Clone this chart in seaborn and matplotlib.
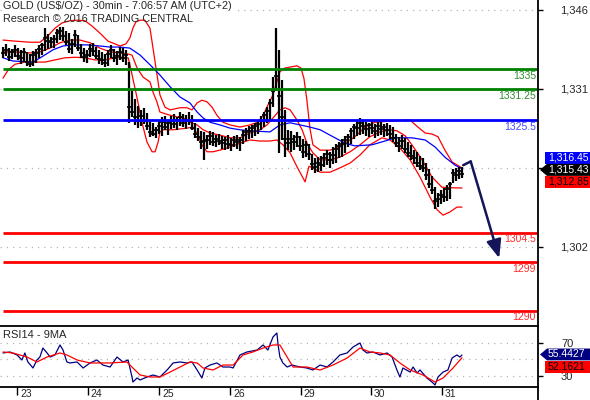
import numpy as np
import matplotlib
matplotlib.use('Agg')
import matplotlib.pyplot as plt
import seaborn as sns
from matplotlib.transforms import blended_transform_factory
from matplotlib.patches import Polygon
from matplotlib.lines import Line2D

# ---- price bars (30 min, one entry per bar) ----
bar_high = [1339.2, 1339.6, 1339.0, 1338.8, 1339.4, 1339.0, 1338.6, 1338.9, 1338.2, 1337.8,
            1338.4, 1338.8, 1339.4, 1339.8, 1342.6, 1341.6, 1341.0, 1341.4, 1342.4, 1342.8,
            1342.9, 1342.0, 1341.8, 1340.6, 1342.2, 1341.4, 1339.6, 1339.0, 1338.6, 1339.6,
            1339.8, 1339.2, 1338.6, 1338.2, 1337.8, 1338.6, 1339.4, 1338.8, 1338.4, 1339.2,
            1339.0, 1338.6, 1336.4, 1331.0, 1329.5, 1328.2, 1327.4, 1327.8, 1326.8, 1325.6,
            1325.0, 1324.2, 1325.4, 1326.0, 1326.2, 1325.6, 1326.2, 1326.6, 1326.0, 1327.0,
            1326.6, 1326.4, 1327.0, 1326.4, 1325.0, 1324.0, 1323.4, 1323.2, 1322.8, 1323.4,
            1323.2, 1322.8, 1323.0, 1322.6, 1322.4, 1322.8, 1322.2, 1322.6, 1322.8, 1322.4,
            1323.6, 1324.0, 1324.4, 1324.6, 1325.0, 1325.6, 1326.2, 1327.0, 1328.0, 1329.4,
            1333.5, 1342.6, 1338.6, 1333.0, 1327.4, 1323.7, 1323.4, 1322.8, 1323.2, 1322.6,
            1322.0, 1321.6, 1321.0, 1319.2, 1318.4, 1318.6, 1318.8, 1319.4, 1320.0, 1319.6,
            1320.4, 1321.0, 1321.4, 1322.0, 1322.6, 1323.0, 1324.0, 1324.8, 1325.4, 1325.8,
            1325.6, 1325.2, 1325.0, 1325.6, 1324.8, 1325.2, 1325.4, 1324.8, 1325.0, 1324.6,
            1324.2, 1323.0, 1322.4, 1322.8, 1322.2, 1321.4, 1320.8, 1320.0, 1319.6, 1318.8,
            1318.4, 1317.6, 1316.4, 1315.0, 1313.0, 1312.0, 1312.4, 1312.8, 1313.4, 1314.0,
            1316.4, 1316.6, 1316.8, 1316.8]
bar_low = [1337.0, 1337.4, 1336.5, 1336.9, 1337.2, 1336.6, 1336.0, 1336.4, 1335.5, 1335.4,
           1335.6, 1336.2, 1337.0, 1337.6, 1338.4, 1338.8, 1339.0, 1339.0, 1339.8, 1340.4,
           1340.2, 1339.4, 1338.0, 1337.8, 1339.2, 1338.4, 1337.0, 1336.4, 1336.2, 1337.2,
           1337.4, 1336.8, 1336.0, 1335.8, 1335.4, 1335.6, 1337.0, 1336.4, 1335.8, 1336.6,
           1336.4, 1335.8, 1325.0, 1326.0, 1324.5, 1324.0, 1324.4, 1324.8, 1323.6, 1322.4,
           1322.6, 1322.2, 1323.0, 1322.6, 1323.6, 1322.8, 1323.8, 1324.0, 1323.6, 1324.4,
           1324.2, 1323.8, 1324.6, 1323.6, 1322.2, 1321.6, 1320.2, 1318.0, 1320.2, 1320.8,
           1320.6, 1320.4, 1320.8, 1320.2, 1320.0, 1320.2, 1319.8, 1320.4, 1320.2, 1319.8,
           1321.0, 1321.6, 1322.0, 1322.2, 1322.6, 1323.0, 1323.6, 1324.2, 1325.0, 1325.6,
           1328.0, 1331.0, 1319.4, 1321.8, 1318.6, 1319.9, 1319.6, 1320.0, 1320.4, 1319.8,
           1318.4, 1318.6, 1318.0, 1316.2, 1315.6, 1315.8, 1316.0, 1316.8, 1317.2, 1316.6,
           1317.4, 1317.6, 1318.4, 1318.6, 1319.4, 1320.4, 1321.0, 1322.0, 1322.6, 1322.8,
           1323.0, 1322.6, 1322.4, 1323.0, 1322.2, 1322.6, 1322.8, 1322.4, 1322.6, 1322.0,
           1321.4, 1320.4, 1319.6, 1320.2, 1319.4, 1318.6, 1318.0, 1317.4, 1316.8, 1316.2,
           1315.8, 1314.4, 1312.8, 1311.8, 1309.0, 1309.4, 1309.8, 1310.2, 1310.4, 1310.8,
           1313.8, 1314.2, 1314.6, 1314.8]
bar_close = [1338.0, 1338.6, 1337.2, 1338.2, 1338.5, 1337.4, 1337.0, 1338.2, 1336.4, 1336.0,
             1337.6, 1338.0, 1338.8, 1339.4, 1340.8, 1340.2, 1340.0, 1340.6, 1341.8, 1342.0,
             1341.2, 1340.0, 1338.8, 1339.6, 1341.4, 1339.0, 1338.0, 1337.2, 1337.6, 1338.8,
             1338.4, 1337.4, 1336.8, 1336.6, 1336.2, 1337.8, 1338.6, 1337.0, 1337.4, 1338.2,
             1337.0, 1337.6, 1328.0, 1327.0, 1326.0, 1325.4, 1326.2, 1325.4, 1324.4, 1323.2,
             1323.0, 1323.6, 1324.4, 1325.2, 1324.2, 1325.0, 1325.4, 1324.8, 1325.6, 1326.0,
             1325.0, 1325.6, 1325.4, 1324.0, 1323.0, 1322.4, 1321.4, 1321.6, 1321.8, 1322.6,
             1321.4, 1322.0, 1321.6, 1321.2, 1321.8, 1321.0, 1320.8, 1321.8, 1321.4, 1321.8,
             1322.8, 1323.2, 1323.4, 1324.0, 1324.4, 1324.8, 1325.4, 1326.4, 1327.2, 1328.6,
             1331.0, 1333.8, 1330.0, 1326.0, 1322.0, 1321.2, 1322.0, 1321.4, 1322.4, 1320.6,
             1319.6, 1320.8, 1319.2, 1317.4, 1316.8, 1317.6, 1317.2, 1318.4, 1319.2, 1318.0,
             1319.0, 1320.2, 1320.6, 1321.0, 1321.8, 1322.4, 1323.4, 1324.2, 1324.0, 1325.0,
             1324.4, 1323.8, 1324.6, 1324.0, 1323.4, 1324.4, 1323.8, 1324.2, 1323.6, 1323.0,
             1322.2, 1321.2, 1320.6, 1321.6, 1320.2, 1319.4, 1318.8, 1318.4, 1317.6, 1317.0,
             1316.6, 1315.2, 1313.6, 1312.4, 1310.4, 1310.8, 1311.6, 1311.2, 1312.6, 1313.6,
             1315.6, 1315.2, 1316.0, 1315.43]

# ---- bollinger bands + moving average (bar index, price) ----
up_x = [0, 4, 9, 12.3, 15, 17.3, 19.7, 22.3, 25, 27.3, 29.7, 32.3, 35, 37.3, 39, 41, 42.3, 43.3,
        44.3, 45.7, 47.3, 49, 50, 50.7, 51.7, 52.3, 54, 55.7, 59, 61.3, 63, 64.7, 66.3, 68, 69.7,
        71.3, 73.3, 75.7, 79, 82.3, 85, 86.7, 88.3, 90, 91.3, 92.3, 94, 98, 99.3, 100.3, 101.3,
        102.3, 103.3, 105.7, 109, 112.3, 114, 117.3, 120.7, 124, 129, 132.3, 135.7, 138.3, 140.7,
        143, 145, 147.3, 149.7, 153]
up_y = [1340.4, 1340.2, 1340.0, 1340.0, 1341.2, 1342.6, 1343.6, 1344.0, 1344.1, 1344.0, 1343.0,
        1341.7, 1340.2, 1339.7, 1339.3, 1339.7, 1340.8, 1342.6, 1343.8, 1344.1, 1344.1, 1342.6,
        1338.9, 1336.3, 1332.6, 1330.2, 1327.9, 1327.4, 1327.8, 1327.8, 1327.4, 1328.7, 1329.2,
        1328.9, 1327.9, 1326.4, 1325.1, 1324.6, 1324.2, 1324.6, 1325.1, 1326.4, 1328.3, 1330.2,
        1332.6, 1334.5, 1335.2, 1335.6, 1335.2, 1333.3, 1329.2, 1324.0, 1320.9, 1319.9, 1319.9,
        1320.5, 1321.2, 1322.4, 1324.2, 1325.1, 1325.3, 1325.4, 1325.5, 1324.2, 1323.1, 1322.9,
        1322.4, 1319.9, 1317.7, 1316.6]
mid_x = [0, 4, 9, 12.3, 15.7, 19, 22.3, 25.7, 29, 32.3, 35.7, 39, 41.7, 43, 44.7, 46.7, 49, 50,
         51.3, 52.3, 55.7, 58, 60, 62.3, 64.7, 66.7, 69, 72.3, 75.7, 79, 82.3, 85.7, 88, 90, 92.3,
         94, 95.7, 98, 99.7, 101.3, 103.3, 105.7, 109, 112.3, 115.7, 119, 122.3, 125.7, 129, 131.3,
         134, 136.3, 139.7, 143, 146.3, 149.7, 153]
mid_y = [1338.2, 1338.2, 1338.0, 1338.2, 1338.9, 1339.9, 1340.4, 1340.4, 1339.9, 1338.9, 1338.2,
         1338.0, 1337.8, 1337.6, 1335.2, 1333.5, 1332.6, 1330.7, 1328.9, 1327.0, 1326.4, 1326.1,
         1325.9, 1325.1, 1324.6, 1323.7, 1323.1, 1322.7, 1322.2, 1322.2, 1323.1, 1323.7, 1324.6,
         1325.9, 1327.4, 1327.8, 1327.4, 1325.5, 1323.7, 1321.2, 1319.4, 1318.1, 1318.1, 1318.6,
         1319.6, 1320.9, 1322.4, 1323.3, 1323.7, 1323.5, 1322.6, 1320.9, 1318.1, 1314.9, 1313.0,
         1312.9, 1312.85]
lo_x = [0, 1.7, 4, 7.3, 10.7, 14, 17.3, 20.7, 24, 27.3, 30.7, 34, 37.3, 39.7, 41.7, 42.3, 44.7,
        46.3, 48, 49.7, 50.7, 51.7, 52.3, 53.3, 56.7, 61.3, 63.3, 65, 66.3, 68, 70, 72.3, 75.7, 79,
        82.3, 85.7, 89, 91.3, 93.3, 95.7, 98, 100.7, 102, 103.3, 105.7, 109, 112.3, 115.7, 119,
        122.3, 126.3, 129, 132.3, 135.7, 139, 142.3, 144.7, 146.7, 149, 151.3, 153]
lo_y = [1333.3, 1334.8, 1335.9, 1336.3, 1336.3, 1336.3, 1336.7, 1337.1, 1337.2, 1337.1, 1336.7,
        1336.7, 1337.1, 1337.2, 1337.1, 1335.8, 1329.6, 1325.1, 1321.4, 1319.6, 1319.6, 1321.4,
        1323.3, 1323.7, 1323.7, 1324.0, 1324.2, 1322.7, 1320.9, 1319.6, 1319.6, 1319.9, 1320.5,
        1321.2, 1321.8, 1321.6, 1321.6, 1321.8, 1320.9, 1319.4, 1316.8, 1314.0, 1316.9, 1316.6,
        1315.8, 1315.8, 1316.6, 1317.5, 1319.0, 1320.9, 1322.2, 1321.8, 1320.3, 1318.1, 1314.9,
        1311.2, 1308.8, 1307.8, 1308.4, 1309.3, 1309.3]
ma_x = [0, 3.3, 10, 13.3, 16.7, 20, 23.3, 28, 32.3, 35.7, 39, 42.3, 45.7, 49, 52.3, 55.7, 59,
        62.3, 64.7, 66.7, 69, 72.3, 75.7, 79, 82.3, 89, 92.3, 95.7, 99, 102.3, 105.7, 109, 114,
        117.3, 123, 127.3, 130.7, 136.3, 140.7, 144, 147.3, 150.7, 153]
ma_y = [1337.1, 1336.5, 1336.3, 1337.4, 1338.6, 1339.3, 1339.5, 1339.5, 1339.3, 1339.1, 1339.1,
        1338.9, 1337.6, 1335.8, 1333.9, 1331.7, 1329.8, 1328.7, 1327.0, 1325.9, 1325.1, 1324.6,
        1324.0, 1323.7, 1323.5, 1323.3, 1324.6, 1325.0, 1324.6, 1324.2, 1323.7, 1322.7, 1321.2,
        1320.7, 1320.9, 1321.6, 1322.2, 1322.2, 1321.8, 1320.5, 1318.6, 1317.1, 1316.45]

# ---- RSI(14) and its 9 period average ----
rsi_x = [0, 2.3, 4.7, 6.3, 7.3, 8.3, 10, 11.3, 12.3, 13.3, 14.7, 15.7, 17.3, 19, 20, 21.3, 22.3,
         24.7, 26.7, 29, 31.3, 33.3, 35.7, 38, 40, 41.7, 43, 43.3, 44.7, 45.7, 48, 50, 52.3, 54.7,
         56.7, 59, 61.3, 63, 64.7, 66.3, 67.3, 69, 71.3, 73.3, 75.7, 76.7, 79, 81.3, 84.7, 86.7,
         88.3, 90, 91.3, 91.7, 92.3, 93.3, 94.7, 96.3, 99, 101.3, 103.3, 105.7, 108, 110, 112.3,
         114.7, 116.7, 119, 120, 121.3, 123.3, 125.7, 128, 129.7, 131.3, 132.3, 133.3, 135.7,
         136.7, 138, 139, 141.3, 143, 144, 145, 146.7, 148.3, 149.7, 151.3, 152.3, 153]
rsi_y = [57.9, 59.1, 55.5, 49.4, 57.9, 47.0, 39.7, 49.4, 53.0, 63.9, 57.9, 53.0, 55.5, 67.6, 61.5,
         47.0, 45.8, 47.0, 39.7, 45.8, 49.4, 43.3, 40.9, 53.0, 47.0, 49.4, 28.8, 22.7, 27.6, 25.2,
         28.8, 31.2, 28.8, 37.3, 45.8, 47.0, 45.8, 47.0, 37.3, 27.6, 39.7, 43.3, 45.8, 40.9, 40.9,
         39.7, 55.5, 59.1, 61.5, 67.6, 61.5, 77.3, 82.1, 67.6, 53.0, 45.8, 40.9, 43.3, 40.9, 39.7,
         37.3, 43.3, 40.9, 47.0, 55.5, 57.9, 65.2, 70.0, 61.5, 57.9, 59.1, 55.5, 57.9, 53.0, 37.3,
         28.8, 39.7, 34.8, 40.9, 33.6, 37.3, 27.6, 22.7, 19.1, 28.8, 34.8, 37.3, 51.8, 55.5, 53.0,
         55.44]
rsima_x = [0, 3.3, 8, 11.3, 14.7, 19, 21.3, 24.7, 29, 35.7, 41.3, 43.3, 45.7, 49, 52.3, 55.7, 59,
           62.3, 64.7, 66.7, 70, 73.3, 76.7, 80, 83.3, 86.7, 90, 92.3, 94.7, 96.7, 101.3, 105.7,
           110, 114.7, 119, 122.3, 125.7, 129, 132.3, 135.7, 140, 144, 146.7, 150, 153]
rsima_y = [59.1, 57.9, 53.0, 47.0, 53.0, 57.9, 55.5, 49.4, 45.8, 45.8, 47.0, 39.7, 31.2, 28.8,
           28.8, 34.8, 40.9, 47.0, 45.8, 39.7, 37.3, 43.3, 43.3, 55.5, 59.1, 63.9, 67.6, 67.6,
           53.0, 40.9, 40.9, 37.3, 43.3, 51.8, 63.9, 59.1, 57.9, 55.5, 45.8, 37.3, 31.2, 22.7,
           27.6, 39.7, 52.16]

# ---- levels, ticks, labels ----
levels = [1335, 1331.25, 1325.5, 1304.5, 1299, 1290]
level_labels = ['1335', '1331.25', '1325.5', '1304.5', '1299', '1290']
level_colors = ['#008000', '#008000', '#0000ff', '#ff0000', '#ff0000', '#ff0000']
label_colors = ['#2e8b2e', '#2e8b2e', '#4646ff', '#ff2a2a', '#ff2a2a', '#ff2a2a']
price_grid = [1346, 1331.3, 1316.6, 1301.9]
price_ticklabels = ['1,346', '1,331', '', '1,302']
rsi_grid = [70, 50, 30]
days = ['23', '24', '25', '26', '29', '30', '31']
day_pos = [4.7, 28.3, 52, 75.7, 99.3, 122.7, 146.3]
# scenario arrow: last bar -> small bounce -> down to 1299
arrow_x = [153.4, 155.9, 165.4]
arrow_y = [1317.1, 1317.8, 1299.8]

navy = '#000080'

sns.set_style('white')
plt.rcParams['font.family'] = ['Liberation Sans', 'DejaVu Sans']

W, H = 590, 400
fig = plt.figure(figsize=(W / 100, H / 100), dpi=100)
ax = fig.add_axes([0, 1 - 326 / H, 538 / W, 326 / H])
rx = fig.add_axes([0, 1 - 387 / H, 538 / W, 61 / H])
xmax = 178.33

for a in (ax, rx):
    a.set_xlim(-1, xmax)
    for s in ['left', 'top', 'right', 'bottom']:
        a.spines[s].set_visible(False)
    a.set_facecolor('none')
ax.set_ylim(1287.16, 1347.86)
rx.set_ylim(16.67, 90.6)
ax.spines['bottom'].set_visible(True)
rx.spines['bottom'].set_visible(True)
for a in (ax, rx):
    a.spines['bottom'].set_color('black')
    a.spines['bottom'].set_linewidth(1.3)
fig.add_artist(Line2D([538 / W, 538 / W], [0, 1], transform=fig.transFigure,
                      color='black', lw=1.3))

# dotted grid
for g in price_grid:
    ax.axhline(g, color='#b4b4b4', lw=0.9, ls=(0, (1, 4)), zorder=0.5)
for g in rsi_grid:
    rx.axhline(g, color='#b4b4b4', lw=0.9, ls=(0, (1, 4)), zorder=0.5)

# bands and average
sns.lineplot(x=up_x, y=up_y, ax=ax, color='#ff0000', lw=0.9, estimator=None, sort=False, zorder=2)
sns.lineplot(x=mid_x, y=mid_y, ax=ax, color='#ff0000', lw=0.9, estimator=None, sort=False, zorder=2)
sns.lineplot(x=lo_x, y=lo_y, ax=ax, color='#ff0000', lw=0.9, estimator=None, sort=False, zorder=2)
sns.lineplot(x=ma_x, y=ma_y, ax=ax, color='#0000ff', lw=0.9, estimator=None, sort=False, zorder=2)

# bars
idx = np.arange(len(bar_close))
ax.vlines(idx, bar_low, bar_high, colors='black', lw=1.6, zorder=3)
ax.hlines(bar_close, idx - 0.6, idx + 0.6, colors='black', lw=1.2, zorder=3)

# support / resistance levels
tr_main = blended_transform_factory(ax.transAxes, ax.transData)
for lv, lb, c, tc in zip(levels, level_labels, level_colors, label_colors):
    ax.hlines(lv, 0, xmax, colors=c, lw=2.0, zorder=4)
    ax.text(536 / 538, lv - 0.3, lb, transform=tr_main, ha='right', va='top',
            color=tc, fontsize=7.5, zorder=5)

# scenario arrow
ax.plot(arrow_x[:2], arrow_y[:2], color='#14145a', lw=1.8, zorder=6, solid_capstyle='round')
ax.annotate('', xy=(arrow_x[2], arrow_y[2]), xytext=(arrow_x[1], arrow_y[1]),
            arrowprops=dict(arrowstyle='-|>,head_length=1.1,head_width=0.45', color='#14145a',
                            lw=1.8, shrinkA=0, shrinkB=0), zorder=6)

# RSI panel
sns.lineplot(x=rsi_x, y=rsi_y, ax=rx, color=navy, lw=0.9, estimator=None, sort=False, zorder=3)
sns.lineplot(x=rsima_x, y=rsima_y, ax=rx, color='#ff0000', lw=0.9, estimator=None, sort=False, zorder=3)
rx.text(3 / 538, 1 - 4 / 61, 'RSI14 - 9MA', transform=rx.transAxes, ha='left', va='top', fontsize=8)

# axis ticks
ax.set_xticks([])
ax.yaxis.set_ticks_position('right')
ax.set_yticks(price_grid)
ax.set_yticklabels(price_ticklabels)
ax.tick_params(axis='y', right=True, left=False, labelright=True, labelleft=False,
               length=3.6, width=1, color='black', pad=12, labelsize=8)
rx.yaxis.set_ticks_position('right')
rx.set_yticks([70, 30])
rx.set_yticklabels(['70', '30'])
rx.tick_params(axis='y', right=True, left=False, labelright=True, labelleft=False,
               length=3.6, width=1, color='black', pad=13, labelsize=8)
rx.set_xticks(day_pos)
rx.set_xticklabels([])
rx.tick_params(axis='x', bottom=True, length=5.8, width=1, color='black', direction='out')
tr_rsi_x = blended_transform_factory(rx.transData, rx.transAxes)
for d, p in zip(days, day_pos):
    rx.text(p + 1.0, -2 / 61, d, transform=tr_rsi_x, ha='left', va='top', fontsize=7.5)
ax.set_xlabel('')
ax.set_ylabel('')
rx.set_xlabel('')
rx.set_ylabel('')

# value boxes on the scale
def value_box(a, yc, half, txt, fc, tc, pointer):
    tr = blended_transform_factory(a.transAxes, a.transData)
    px = 1 / 538
    x0 = 1 + (9 if pointer else 7) * px
    xr = 1 + 60 * px
    pts = [(x0, yc + half), (xr, yc + half), (xr, yc - half), (x0, yc - half)]
    if pointer:
        pts.append((1 + 2 * px, yc))
    a.add_patch(Polygon(pts, closed=True, transform=tr, fc=fc, ec='none', clip_on=False, zorder=10))
    a.text(1 + 10 * px, yc, txt, transform=tr, color=tc, fontsize=7.5, ha='left', va='center',
           clip_on=False, zorder=11)

value_box(ax, 1318.46, 1.12, '1,316.45', '#0000ff', 'white', False)
value_box(ax, 1316.23, 1.12, '1,315.43', 'black', 'white', True)
value_box(ax, 1314.0, 1.12, '1,312.85', '#ff0000', 'black', False)
value_box(rx, 56.1, 7.2, '55.4427', navy, 'white', True)
value_box(rx, 40.9, 7.2, '52.1621', '#ff0000', 'black', False)

# header
fig.text(3 / W, 1 - 1 / H, 'GOLD (US\\$/OZ) - 30min - 7:06:57 AM (UTC+2)', ha='left', va='top',
         fontsize=7.8, bbox=dict(fc='white', ec='none', pad=1))
fig.text(3 / W, 1 - 14 / H, 'Research \u00a9 2016 TRADING CENTRAL', ha='left', va='top', fontsize=7.8)

fig.savefig('out.png', dpi=100)
